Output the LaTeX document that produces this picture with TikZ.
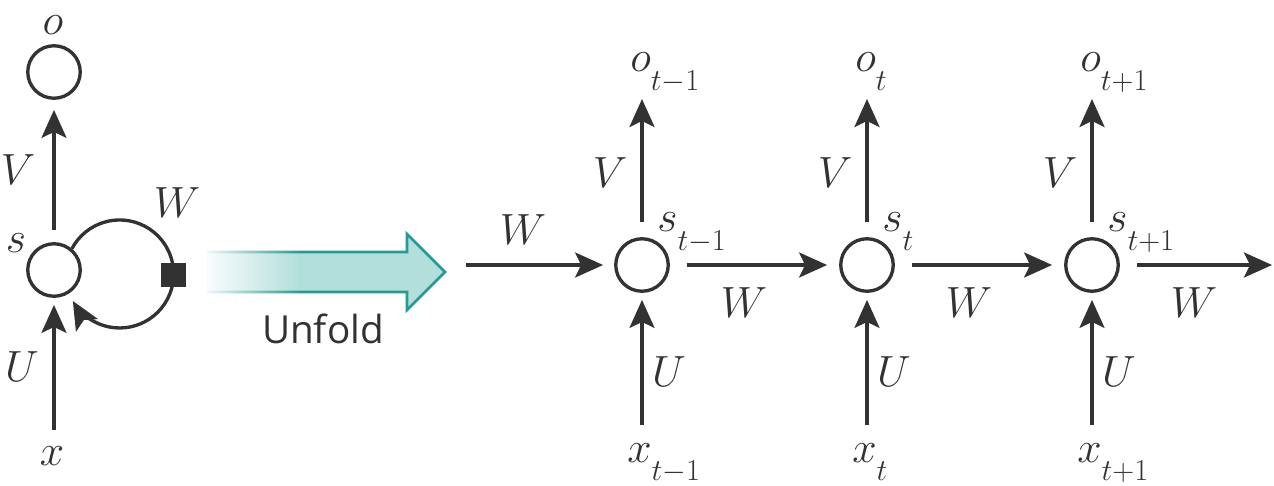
\documentclass[tikz,border=0pt]{standalone}
\usepackage{fontspec}
\usepackage{tikz}
\usetikzlibrary{arrows.meta,fadings}

\newfontfamily\unfoldfont{Open Sans}
\newcommand\lowsub[1]{_{\lower7pt\hbox{$\scriptstyle #1$}}}

\definecolor{inkgray}{RGB}{50,50,50}
\definecolor{unfoldfill}{RGB}{178,223,219}
\definecolor{unfolddraw}{RGB}{38,155,148}
\tikzfading[name=fadeleft, left color=transparent!0, right color=transparent!100]

\begin{document}
\begin{tikzpicture}[x=0.02cm,y=-0.02cm,
  unit/.style={circle, draw=inkgray, line width=1.9pt, minimum size=1.05cm, inner sep=0pt},
  gate/.style={rectangle, fill=inkgray, minimum size=0.5cm, inner sep=0pt},
  lbl/.style={font=\fontsize{25}{30}\selectfont, text=inkgray, inner sep=0pt},
  conn/.style={-{Stealth[length=0.56cm,width=0.5cm,inset=0.12cm]}, draw=inkgray, line width=1.9pt}]
  \useasboundingbox (0,0) rectangle (1274,486);

  % folded network
  \node[unit] (o) at (54,72) {};
  \node[unit] (s) at (54,270) {};
  \node[lbl] (ol) at (53,25) {$o$};
  \node[lbl] (sl) at (16,243) {$s$};
  \node[lbl] (xl) at (52,456) {$x$};
  \node[lbl] (vl) at (18,170) {$V$};
  \node[lbl] (ul) at (22,367) {$U$};
  \node[lbl] (wl) at (177,203) {$W$};
  \draw[conn, shorten <=0.24cm, shorten >=0.2cm] (s) -- (o);
  \draw[conn, shorten <=0.33cm, shorten >=0.14cm] (s |- xl.north) -- (s);
  \draw[conn] (s.50) arc[start angle=208, end angle=510, radius=54];
  \node[gate] (g) at (173,275) {};

  % unfold arrow
  \fill[unfoldfill] (207,252) -- (407,252) -- (407,234) -- (445,272) -- (407,310) -- (407,292) -- (207,292) -- cycle;
  \draw[unfolddraw, line width=1.6pt] (207,252) -- (407,252) -- (407,234) -- (445,272) -- (407,310) -- (407,292) -- (207,292);
  \fill[white, path fading=fadeleft] (200,244) rectangle (300,300);
  \node[font=\unfoldfont\fontsize{22}{26}\selectfont, text=inkgray] (unfold) at (323,329) {Unfold};

  % unfolded network
  \foreach \i/\cx/\t in {1/642/t-1, 2/867/t, 3/1092/t+1} {
    \node[unit] (s\i) at (\cx,265) {};
    \node[lbl, anchor=base west] (o\i) at (\cx-12,72) {$o\lowsub{\t}$};
    \node[lbl, anchor=base west] (sl\i) at (\cx+15,232) {$s\lowsub{\t}$};
    \node[lbl, anchor=base west] (x\i) at (\cx-15,462) {$x\lowsub{\t}$};
    \node[lbl] (v\i) at (\cx-32,173) {$V$};
    \node[lbl] (u\i) at (\cx+27,372) {$U$};
    \node[lbl] (w\i) at (\cx+102,303) {$W$};
    \draw[conn, shorten <=0.3cm, shorten >=0.54cm] (s\i) -- (s\i |- o\i.base);
    \draw[conn, shorten <=0.36cm, shorten >=0.14cm] (s\i |- x\i.north) -- (s\i);
  }
  \coordinate (in) at (466,265);
  \coordinate (out) at (1272,265);
  \node[lbl] (w0) at (523,230) {$W$};
  \draw[conn, shorten >=0.22cm] (in) -- (s1);
  \draw[conn, shorten <=0.34cm, shorten >=0.24cm] (s1) -- (s2);
  \draw[conn, shorten <=0.34cm, shorten >=0.24cm] (s2) -- (s3);
  \draw[conn, shorten <=0.34cm] (s3) -- (out);
\end{tikzpicture}
\end{document}
